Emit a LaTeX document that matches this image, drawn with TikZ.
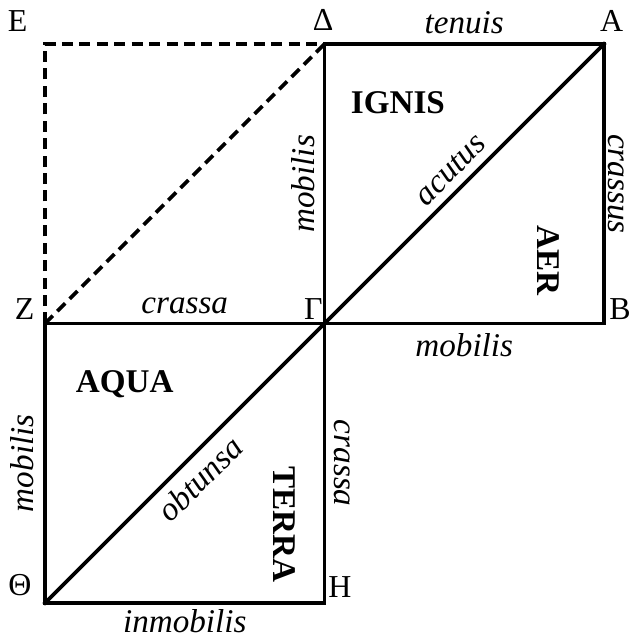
\documentclass[tikz,border=0pt]{standalone}
\usepackage{fontspec}
\setmainfont{Liberation Serif}
\tikzset{
  edge/.style={line width=1.5pt, line cap=rect},
  hidden/.style={line width=1.5pt, dash pattern=on 4.5pt off 2.6pt},
  word/.style={font=\fontsize{13.5}{16}\selectfont\itshape},
  element/.style={font=\fontsize{13.5}{16}\selectfont\bfseries},
  corner/.style={font=\fontsize{13}{15}\selectfont}
}
\begin{document}
\begin{tikzpicture}[line width=1.5pt]

\def \Side{4}
\useasboundingbox (-0.644,-0.472) rectangle (8.43,8.63);

\coordinate (Theta) at (0,0);
\coordinate (H) at (\Side,0);
\coordinate (Z) at (0,\Side);
\coordinate (Gamma) at (\Side,\Side);
\coordinate (B) at ({2*\Side},\Side);
\coordinate (E) at (0,{2*\Side});
\coordinate (Delta) at (\Side,{2*\Side});
\coordinate (A) at ({2*\Side},{2*\Side});

% dashed square
\draw[hidden] (Z) -- (E) -- (Delta);
\draw[hidden] (Z) -- (Delta);

% upper square
\draw[edge] (Delta) -- (A) node[midway,above,word] {tenuis};
\draw[edge] (A) -- (B) node[midway,sloped,above,word,inner sep=1pt] {crassus};
\draw[edge] (Gamma) -- (B) node[midway,below,word] {mobilis};
\draw[edge] (Gamma) -- (Delta) node[midway,sloped,above,word] {mobilis};
\draw[edge] (Gamma) -- (A) node[midway,sloped,above,word] {acutus};

% lower square
\draw[edge] (Z) -- (Gamma) node[midway,above,word] {crassa};
\draw[edge] (Gamma) -- (H) node[midway,sloped,above,word] {crassa};
\draw[edge] (Theta) -- (H) node[midway,below,word,inner sep=2pt] {inmobilis};
\draw[edge] (Theta) -- (Z) node[midway,sloped,above,word,inner sep=4pt] {mobilis};
\draw[edge] (Theta) -- (Gamma) node[midway,sloped,below,word] {obtunsa};

% elements
\node[element] (ignis) at (5.05,7.16) {IGNIS};
\node[element,rotate=-90] (aer) at (7.2,4.9) {AER};
\node[element] (aqua) at (1.14,3.13) {AQUA};
\node[element,rotate=-90] (terra) at (3.43,1.13) {TERRA};

% letters
\node[corner] (lE) at (-0.39,8.33) {E};
\node[corner] (lDelta) at (3.98,8.35) {Δ};
\node[corner] (lA) at (8.11,8.33) {A};
\node[corner] (lZ) at (-0.29,4.2) {Z};
\node[corner] (lGamma) at (3.84,4.2) {Γ};
\node[corner] (lB) at (8.23,4.2) {B};
\node[corner] (lTheta) at (-0.36,0.26) {Θ};
\node[corner] (lH) at (4.22,0.23) {H};

\end{tikzpicture}
\end{document}
